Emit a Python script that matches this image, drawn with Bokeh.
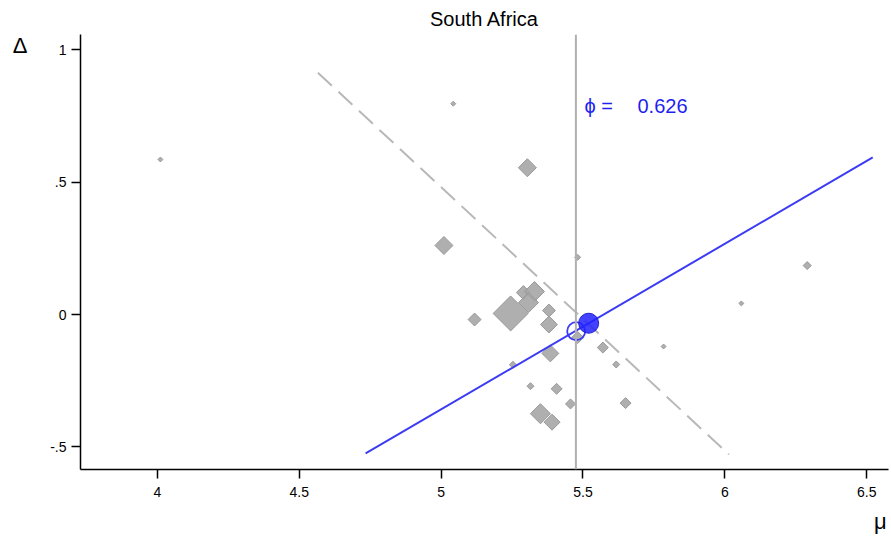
import math
from bokeh.plotting import figure
from bokeh.models import ColumnDataSource, Label, FixedTicker, Span, Range1d, LinearAxis
from bokeh.embed import file_html
from bokeh.resources import INLINE

# ---- data ----
mu = [4.011, 5.043, 5.304, 5.010, 5.481, 6.290, 6.058, 5.118, 5.245, 5.290,
      5.329, 5.308, 5.380, 5.380, 5.481, 5.570, 5.385, 5.617, 5.784, 5.253,
      5.315, 5.407, 5.456, 5.650, 5.350, 5.391]
delta = [0.586, 0.797, 0.555, 0.261, 0.216, 0.185, 0.042, -0.019, 0.004, 0.083,
         0.087, 0.045, 0.015, -0.038, -0.087, -0.125, -0.147, -0.189, -0.121, -0.190,
         -0.271, -0.281, -0.338, -0.335, -0.375, -0.407]
weight = [6, 6, 81, 81, 9, 16, 6, 42, 306, 49,
          100, 100, 42, 72, 36, 30, 72, 12, 6, 12,
          12, 30, 25, 30, 100, 64]

mean_mu = 5.475
point_unweighted = (5.476, -0.063)
point_weighted = (5.520, -0.033)
phi = 0.626
fit_x = [4.734, 6.521]
fit_y = [point_weighted[1] + phi * (fit_x[0] - point_weighted[0]),
         point_weighted[1] + phi * (fit_x[1] - point_weighted[0])]
perp_x = [4.566, 6.014]
perp_y = [0.914, -0.529]

x_ticks = [4, 4.5, 5, 5.5, 6, 6.5]
x_tick_labels = {4: "4", 4.5: "4.5", 5: "5", 5.5: "5.5", 6: "6", 6.5: "6.5"}
y_ticks = [-0.5, 0, 0.5, 1]
y_tick_labels = {-0.5: "-.5", 0: "0", 0.5: ".5", 1: "1"}
x_title, x_title_pos = "\u03bc", 6.548
y_title, y_title_pos = "\u0394", 1.017

FONT = "Liberation Sans"

p = figure(width=891, height=539, output_backend="svg", toolbar_location=None,
           x_range=Range1d(3.7294, 6.5765), y_range=Range1d(-0.586, 1.0586),
           min_border_left=80, min_border_right=3, min_border_top=34,
           min_border_bottom=70)
p.title.text = "South Africa"
p.title.align = "center"
p.title.text_font = FONT
p.title.text_font_style = "normal"
p.title.text_font_size = "20px"
p.title.text_color = "black"
p.title.standoff = 9
p.outline_line_color = None
p.xgrid.visible = False
p.ygrid.visible = False
p.background_fill_color = "white"
p.border_fill_color = "white"

for ax in (p.xaxis[0], p.yaxis[0]):
    ax.axis_line_color = "black"
    ax.axis_line_width = 1.5
    ax.major_tick_line_color = "black"
    ax.major_tick_line_width = 1.5
    ax.major_tick_in = 0
    ax.major_tick_out = 9
    ax.minor_tick_line_color = None
    ax.major_label_text_font = FONT
    ax.major_label_text_font_size = "14px"
    ax.major_label_text_color = "black"

p.xaxis[0].ticker = FixedTicker(ticks=x_ticks)
p.xaxis[0].major_label_overrides = x_tick_labels
p.xaxis[0].major_label_standoff = 8
p.yaxis[0].ticker = FixedTicker(ticks=y_ticks)
p.yaxis[0].major_label_overrides = y_tick_labels
p.yaxis[0].major_label_standoff = 5


def title_axis(pos, text, standoff):
    a = LinearAxis(ticker=FixedTicker(ticks=[pos]), major_label_overrides={pos: text})
    a.axis_line_color = None
    a.major_tick_line_color = None
    a.minor_tick_line_color = None
    a.major_tick_in = 0
    a.major_tick_out = 0
    a.major_label_standoff = standoff
    a.major_label_text_font = FONT
    a.major_label_text_font_size = "22px"
    a.major_label_text_color = "black"
    return a


p.add_layout(title_axis(y_title_pos, y_title, 20), "left")
p.add_layout(title_axis(x_title_pos, x_title, 9), "below")

# vertical line at mean mu
p.add_layout(Span(location=mean_mu, dimension="height", line_color="#b0b0b0", line_width=2))

# dashed line
p.line(perp_x, perp_y, line_color="#b8b8b8", line_width=2, line_dash="19 9")

# diamonds (weighted)
sizes = [math.sqrt(w) * math.sqrt(2) for w in weight]
src = ColumnDataSource(dict(x=mu, y=delta, s=sizes))
p.scatter("x", "y", size="s", source=src, marker="square", angle=math.pi / 4,
          fill_color="#a6a6a6", fill_alpha=0.9, line_color="#999999", line_width=1)

# blue fitted line
p.line(fit_x, fit_y, line_color="#3b3bf5", line_width=2)

# unweighted (hollow) and weighted (filled) points
p.scatter([point_unweighted[0]], [point_unweighted[1]], size=18, marker="circle",
          fill_color=None, line_color="#3b3bf5", line_width=1.8)
p.scatter([point_weighted[0]], [point_weighted[1]], size=20, marker="circle",
          fill_color="#2222ff", fill_alpha=0.85, line_color="#2020d0", line_width=1)

# phi label
p.add_layout(Label(x=5.505, y=0.79, text="\u03d5 =", text_font=FONT,
                   text_font_size="20px", text_color="#1f1ff0",
                   text_align="left", text_baseline="middle"))
p.add_layout(Label(x=5.692, y=0.79, text="%.3f" % phi, text_font=FONT,
                   text_font_size="20px", text_color="#1f1ff0",
                   text_align="left", text_baseline="middle"))

open("out.html", "w").write(file_html(p, INLINE))
